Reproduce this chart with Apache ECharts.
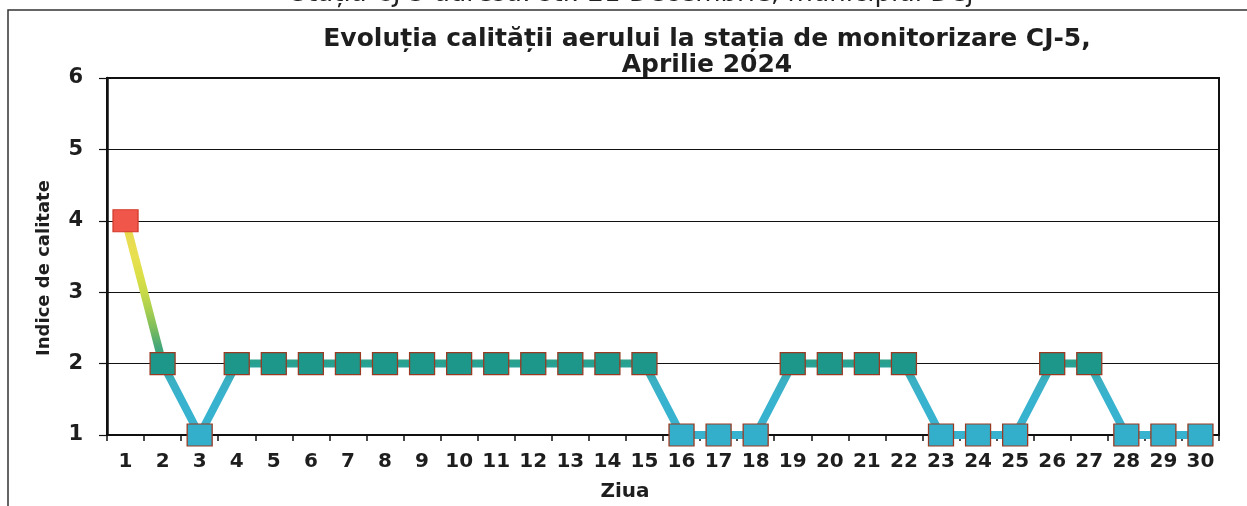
<!DOCTYPE html>
<html lang="ro">
<head>
    <meta charset="UTF-8">
    <script src="https://cdn.jsdelivr.net/npm/echarts@6/dist/echarts.min.js"></script>
    <title>Evoluția calității aerului CJ-5</title>
    <style>
        html, body {
            margin: 0;
            padding: 0;
            background: #fff;
        }
        #main {
            width: 1247px;
            height: 506px;
        }
    </style>
</head>
<body>
<div id="main"></div>

<script>
    // zilele lunii aprilie
    var days = [];
    for (var d = 1; d <= 30; d++) days.push(String(d));

    // indicele de calitate pe zile
    var indexValues = [4, 2, 1, 2, 2, 2, 2, 2, 2, 2, 2, 2, 2, 2, 2,
                       1, 1, 1, 2, 2, 2, 2, 1, 1, 1, 2, 2, 1, 1, 1];

    var yTicks = [1, 2, 3, 4, 5, 6];

    var markerColors = { 1: '#34afcb', 2: '#1c978a', 3: '#9cc94a', 4: '#f0574a' };

    var font = 'DejaVu Sans, Verdana, sans-serif';
    var chart = echarts.init(document.getElementById('main'));

    chart.setOption({
        backgroundColor: '#fff',
        animation: false,
        title: {
            text: 'Evoluția calității aerului la stația de monitorizare CJ-5,\nAprilie 2024',
            left: 702,
            top: 21,
            textAlign: 'center',
            textStyle: {
                fontFamily: font,
                fontSize: 25,
                fontWeight: 'bold',
                color: '#1e1e1e',
                lineHeight: 26
            }
        },
        graphic: [
            {
                type: 'rect',
                shape: { x: 8, y: 10, width: 1260, height: 520 },
                style: { fill: 'none', stroke: '#333', lineWidth: 1.5 },
                silent: true
            },
            {
                // titlul paginii, taiat sus
                type: 'text',
                x: 632,
                y: 7,
                style: {
                    text: 'Stația CJ-5 adresa: str. 21 Decembrie, municipiul Dej',
                    fontFamily: font,
                    fontSize: 26,
                    fill: '#222',
                    align: 'center',
                    verticalAlign: 'bottom'
                }
            },
            {
                type: 'text',
                x: 44,
                y: 268,
                rotation: Math.PI / 2,
                style: {
                    text: 'Indice de calitate',
                    fontFamily: font,
                    fontSize: 18,
                    fontWeight: 'bold',
                    fill: '#1e1e1e',
                    align: 'center',
                    verticalAlign: 'middle'
                }
            },
            {
                type: 'text',
                x: 625,
                y: 492,
                style: {
                    text: 'Ziua',
                    fontFamily: font,
                    fontSize: 20,
                    fontWeight: 'bold',
                    fill: '#1e1e1e',
                    align: 'center',
                    verticalAlign: 'middle'
                }
            }
        ],
        grid: {
            left: 107,
            right: 28,
            top: 78,
            bottom: 71,
            show: true,
            borderColor: '#111',
            borderWidth: 2,
            backgroundColor: 'transparent'
        },
        xAxis: {
            type: 'category',
            data: days,
            boundaryGap: true,
            axisLine: { lineStyle: { color: '#111', width: 1.5 } },
            axisTick: { show: true, alignWithLabel: false, length: 6, lineStyle: { color: '#111', width: 1.5 } },
            axisLabel: {
                margin: 17,
                fontFamily: font,
                fontSize: 20,
                fontWeight: 'bold',
                color: '#1e1e1e',
                interval: 0
            },
            splitLine: { show: false }
        },
        yAxis: {
            type: 'value',
            min: yTicks[0],
            max: yTicks[yTicks.length - 1],
            interval: 1,
            axisLine: { show: true, lineStyle: { color: '#111', width: 2.5 } },
            axisTick: { show: true, length: 8, lineStyle: { color: '#111', width: 1.2 } },
            axisLabel: {
                margin: 24,
                fontFamily: font,
                fontSize: 21,
                fontWeight: 'bold',
                color: '#1e1e1e'
            },
            splitLine: { show: true, lineStyle: { color: '#111', width: 1.2 } }
        },
        visualMap: {
            show: false,
            type: 'continuous',
            seriesIndex: 0,
            dimension: 1,
            min: 1,
            max: 4,
            inRange: {
                color: ['#38b3cf', '#38b3cf', '#38b3cf', '#3cb0c4', '#25a090',
                        '#49a876', '#7cbd5c', '#a8cf50', '#c8da48', '#dcdf48',
                        '#e8e050', '#e8dc50', '#e8d850']
            }
        },
        series: [
            {
                type: 'line',
                data: indexValues,
                symbol: 'none',
                lineStyle: { width: 8 },
                z: 2
            },
            {
                type: 'scatter',
                data: indexValues.map(function (v) {
                    return {
                        value: v,
                        itemStyle: {
                            color: markerColors[v],
                            borderColor: v === 4 ? '#d23a2c' : '#9a3a22',
                            borderWidth: 1.2,
                            opacity: 1
                        }
                    };
                }),
                symbol: 'rect',
                symbolSize: [25, 22],
                itemStyle: { opacity: 1 },
                z: 3
            }
        ]
    });
</script>
</body>
</html>
